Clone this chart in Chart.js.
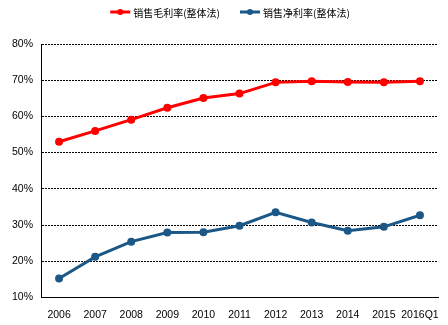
<!DOCTYPE html>
<html><head><meta charset="utf-8">
<script src="https://cdn.jsdelivr.net/npm/chart.js@4/dist/chart.umd.min.js"></script>
<style>html,body{margin:0;padding:0;background:#fff}#w{width:448px;height:325px}</style>
</head><body><div id="w"><canvas id="c" width="448" height="325"></canvas></div>
<script>
const categories = ['2006','2007','2008','2009','2010','2011','2012','2013','2014','2015','2016Q1'];
const grossMargin = [53.0,56.0,59.1,62.4,65.1,66.3,69.4,69.7,69.5,69.4,69.7];
const netMargin = [15.2,21.2,25.4,27.9,28.0,29.8,33.5,30.7,28.4,29.5,32.7];
const seriesNames = ['销售毛利率(整体法)','销售净利率(整体法)'];
const yTicks = [10,20,30,40,50,60,70,80];

const lineLegend = {
  id: 'lineLegend',
  afterDraw(chart) {
    const ctx = chart.ctx;
    const font = '10px "Noto Sans CJK SC", sans-serif';
    ctx.save();
    ctx.font = font;
    const sw = 20, gapT = 3, gapI = 20, y = 12;
    const items = chart.data.datasets.map(d => ({d, w: sw + gapT + ctx.measureText(d.label).width}));
    const total = items.reduce((a, it) => a + it.w, 0) + gapI * (items.length - 1);
    let x = 230 - total / 2;
    items.forEach(it => {
      const c = it.d.borderColor;
      ctx.strokeStyle = c; ctx.lineWidth = 3;
      ctx.beginPath(); ctx.moveTo(x, y); ctx.lineTo(x + sw, y); ctx.stroke();
      ctx.fillStyle = c;
      ctx.beginPath(); ctx.arc(x + sw / 2, y, 3, 0, Math.PI * 2); ctx.fill();
      ctx.fillStyle = '#000'; ctx.textBaseline = 'middle'; ctx.textAlign = 'left';
      ctx.fillText(it.d.label, x + sw + gapT, y + 1);
      x += it.w + gapI;
    });
    ctx.restore();
  }
};

new Chart(document.getElementById('c'), {
  type: 'line',
  data: {
    labels: categories,
    datasets: [
      {label: seriesNames[0], data: grossMargin, borderColor: '#ff0000', backgroundColor: '#ff0000',
       borderWidth: 3, pointRadius: 2.5, pointHoverRadius: 2.5, tension: 0},
      {label: seriesNames[1], data: netMargin, borderColor: '#1b5887', backgroundColor: '#1b5887',
       borderWidth: 3, pointRadius: 2.5, pointHoverRadius: 2.5, tension: 0}
    ]
  },
  options: {
    responsive: false, animation: false, devicePixelRatio: 1,
    layout: {padding: {left: 4, right: 10, top: 44, bottom: 1}},
    plugins: {
      legend: {display: false},
      tooltip: {enabled: false}
    },
    scales: {
      x: {offset: true, grid: {display: false},
          border: {display: true, color: '#000', width: 1},
          ticks: {color: '#000', font: {family: '"Liberation Sans", Arial', size: 10.5}, maxRotation: 0, autoSkip: false, padding: 3}},
      y: {min: 10, max: 80, afterBuildTicks: s => { s.ticks = yTicks.map(v => ({value: v})); },
          grid: {color: '#000', lineWidth: 1, drawTicks: false},
          border: {display: true, color: '#000', width: 1, dash: [2,1]},
          ticks: {color: '#000', padding: 8, callback: v => v + '%', font: {family: '"Liberation Sans", Arial', size: 10.5}}}
    }
  },
  plugins: [lineLegend]
});
</script></body></html>
